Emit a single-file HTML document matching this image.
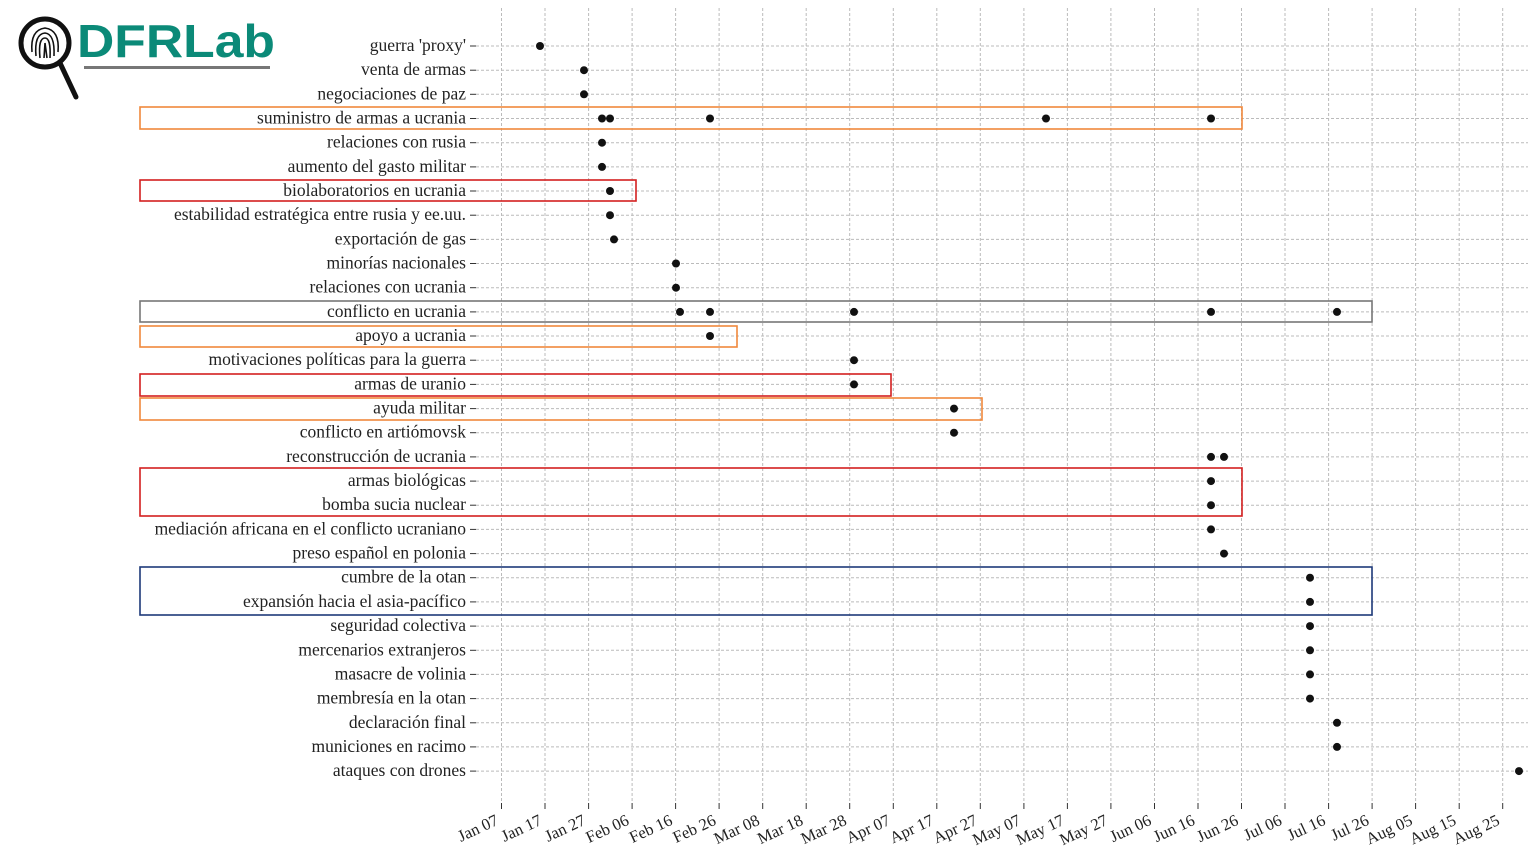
<!DOCTYPE html>
<html><head><meta charset="utf-8"><style>
html,body{margin:0;padding:0;background:#fff;}
svg{display:block;}
.l{font-family:"Liberation Serif",serif;font-size:17.5px;fill:#222;text-anchor:end;}
.t{font-family:"Liberation Serif",serif;font-size:16.5px;fill:#222;text-anchor:end;}
</style></head><body>
<svg width="1536" height="865" xmlns="http://www.w3.org/2000/svg" id="s">
<!-- logo -->
<circle cx="45" cy="43" r="24" fill="none" stroke="#111" stroke-width="5"/>
<line x1="60" y1="63" x2="76" y2="97" stroke="#111" stroke-width="5" stroke-linecap="round"/>
<g fill="none" stroke="#111" stroke-width="1.6">
<path d="M32 52 Q30 30 45 28 Q60 30 58 52"/>
<path d="M36 56 Q34 34 45 33 Q55 34 54 56"/>
<path d="M40 58 Q38 38 45 38 Q51 38 50 58"/>
<path d="M44 58 L45 43 L47 58"/>
</g>
<text x="77" y="57" font-family="Liberation Sans,sans-serif" font-weight="bold" font-size="46" fill="#0b8a78" textLength="198" lengthAdjust="spacingAndGlyphs">DFRLab</text>
<rect x="84" y="66" width="186" height="3" fill="#777"/>
<g id="grid"></g>
<g id="boxes" fill="none" stroke-width="1.6">
<rect x="140" y="107" width="1102" height="22" stroke="#f0883c"/>
<rect x="140" y="180" width="496" height="21" stroke="#d42020"/>
<rect x="140" y="301" width="1232" height="21" stroke="#777"/>
<rect x="140" y="326" width="597" height="21" stroke="#f0883c"/>
<rect x="140" y="374" width="751" height="22" stroke="#d42020"/>
<rect x="140" y="398" width="842" height="22" stroke="#f0883c"/>
<rect x="140" y="468" width="1102" height="48" stroke="#d42020"/>
<rect x="140" y="567" width="1232" height="48" stroke="#1e3a7a"/>
</g>
</svg>
<script>
const labels=["guerra 'proxy'","venta de armas","negociaciones de paz","suministro de armas a ucrania","relaciones con rusia","aumento del gasto militar","biolaboratorios en ucrania","estabilidad estratégica entre rusia y ee.uu.","exportación de gas","minorías nacionales","relaciones con ucrania","conflicto en ucrania","apoyo a ucrania","motivaciones políticas para la guerra","armas de uranio","ayuda militar","conflicto en artiómovsk","reconstrucción de ucrania","armas biológicas","bomba sucia nuclear","mediación africana en el conflicto ucraniano","preso español en polonia","cumbre de la otan","expansión hacia el asia-pacífico","seguridad colectiva","mercenarios extranjeros","masacre de volinia","membresía en la otan","declaración final","municiones en racimo","ataques con drones"];
const pts=[[540],[584],[584],[602,610,710,1046,1211],[602],[602],[610],[610],[614],[676],[676],[680,710,854,1211,1337],[710],[854],[854],[954],[954],[1211,1224],[1211],[1211],[1211],[1224],[1310],[1310],[1310],[1310],[1310],[1310],[1337],[1337],[1519]];
const ticks=["Jan 07","Jan 17","Jan 27","Feb 06","Feb 16","Feb 26","Mar 08","Mar 18","Mar 28","Apr 07","Apr 17","Apr 27","May 07","May 17","May 27","Jun 06","Jun 16","Jun 26","Jul 06","Jul 16","Jul 26","Aug 05","Aug 15","Aug 25"];
let h='';
ticks.forEach((t,i)=>{const x=(501.5+i*43.53).toFixed(1);
h+=`<line x1="${x}" y1="8" x2="${x}" y2="803" stroke="#bbb" stroke-dasharray="3,2"/>`;
h+=`<line x1="${x}" y1="803" x2="${x}" y2="809" stroke="#333"/>`;
h+=`<text class="t" transform="translate(${+x-2},824) rotate(-25)">${t}</text>`;});
labels.forEach((l,i)=>{const y=(46+i*24.17).toFixed(1);
h+=`<line x1="476" y1="${y}" x2="1528" y2="${y}" stroke="#bbb" stroke-dasharray="3,2"/>`;
h+=`<line x1="470" y1="${y}" x2="476" y2="${y}" stroke="#333"/>`;
h+=`<text class="l" x="466" y="${+y+5}">${l}</text>`;
pts[i].forEach(x=>{h+=`<circle cx="${x}" cy="${y}" r="4" fill="#111"/>`;});});
document.getElementById('grid').innerHTML=h;
</script>
</body></html>
